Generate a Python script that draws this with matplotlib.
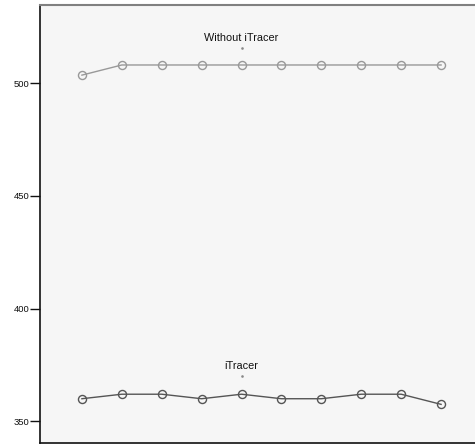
import matplotlib
matplotlib.use("Agg")
import matplotlib.pyplot as plt

plt.rcParams["font.family"] = ["Liberation Sans", "DejaVu Sans"]

runs = list(range(1, 11))
without_itracer = [503.5, 508, 508, 508, 508, 508, 508, 508, 508, 508]
with_itracer = [360, 362, 362, 360, 362, 360, 360, 362, 362, 357.5]
labels = ["Without iTracer", "iTracer"]
label_x = [5, 5]
label_y = [515.5, 370]
yticks = [350, 400, 450, 500]

fig = plt.figure(figsize=(4.75, 4.44), dpi=100)
# axes run past the right edge of the image, as in the reference
ax = fig.add_axes([40 / 475, 1.3 / 444, 443 / 475, 437.7 / 444])
ax.set_facecolor("#f6f6f6")

ax.plot(runs, without_itracer, color="#999999", lw=1.0, marker="o", ms=5.8,
        mfc="none", mec="#999999", mew=1.0)
ax.plot(runs, with_itracer, color="#555555", lw=1.0, marker="o", ms=5.8,
        mfc="none", mec="#555555", mew=1.0)

for text, x, y in zip(labels, label_x, label_y):
    ax.plot([x], [y], marker="s", ms=0.8, color="#888888", lw=0)
    ax.annotate(text, (x, y), xytext=(0, 3.5), textcoords="offset points",
                ha="center", va="bottom", fontsize=7.8, color="#111111")

ax.set_xlim(-0.05, 11.05)
ax.set_ylim(340.5, 534.6)
ax.set_yticks(yticks)
ax.set_xticks([])
ax.tick_params(axis="y", direction="out", length=7.2, width=1.0, pad=0.5,
               labelsize=6.8, colors="#111111")

ax.spines["left"].set_color("#111111")
ax.spines["bottom"].set_color("#111111")
ax.spines["left"].set_linewidth(1.2)
ax.spines["bottom"].set_linewidth(1.2)
ax.spines["top"].set_color("#808080")
ax.spines["top"].set_linewidth(1.5)
ax.spines["right"].set_visible(False)

fig.savefig("out.png", dpi=100)
